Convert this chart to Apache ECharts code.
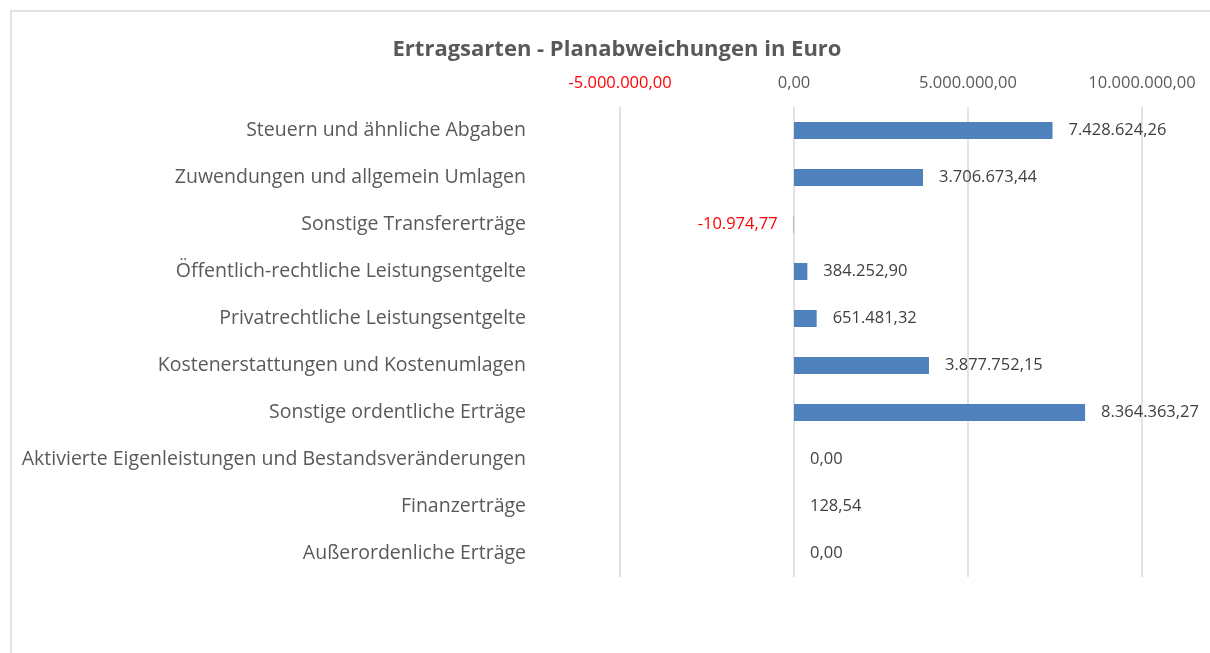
<!DOCTYPE html>
<html><head><meta charset="utf-8">
<script src="https://cdn.jsdelivr.net/npm/echarts@6/dist/echarts.min.js"></script>
<style>html,body{margin:0;padding:0;background:#fff}#c{width:1210px;height:653px}</style>
</head><body><div id="c"></div>
<script>
const categories = [
  'Steuern und ähnliche Abgaben',
  'Zuwendungen und allgemein Umlagen',
  'Sonstige Transfererträge',
  'Öffentlich-rechtliche Leistungsentgelte',
  'Privatrechtliche Leistungsentgelte',
  'Kostenerstattungen und Kostenumlagen',
  'Sonstige ordentliche Erträge',
  'Aktivierte Eigenleistungen und Bestandsveränderungen',
  'Finanzerträge',
  'Außerordenliche Erträge'
];
const values = [7428624.26, 3706673.44, -10974.77, 384252.90, 651481.32, 3877752.15, 8364363.27, 0, 128.54, 0];
const axisMin = -5000000, axisMax = 10000000, axisStep = 5000000;
const titleText = 'Ertragsarten - Planabweichungen in Euro';

function fmt(v) {
  const neg = v < 0;
  const s = Math.abs(v).toFixed(2).split('.');
  const intPart = s[0].replace(/\B(?=(\d{3})+(?!\d))/g, '.');
  return (neg ? '-' : '') + intPart + ',' + s[1];
}
const FONT = '"Open Sans", "DejaVu Sans", sans-serif';
const chart = echarts.init(document.getElementById('c'), null, {renderer: 'canvas'});
chart.setOption({
  animation: false,
  backgroundColor: '#fff',
  graphic: [{type: 'rect', shape: {x: 11, y: 11, width: 1300, height: 800}, style: {fill: 'none', stroke: '#d9d9d9', lineWidth: 1.5}, z: 0}],
  title: {
    text: titleText, left: 612, top: 34, textAlign: 'center',
    textStyle: {fontFamily: FONT, fontSize: 22, fontWeight: 'bold', color: '#595959'}
  },
  grid: {left: 620, right: 68, top: 107, bottom: 76, containLabel: false},
  xAxis: {
    type: 'value', position: 'top', min: axisMin, max: axisMax, interval: axisStep,
    axisLine: {show: false}, axisTick: {show: false},
    splitLine: {show: true, lineStyle: {color: '#d9d9d9', width: 1.5}},
    axisLabel: {
      margin: 15, fontFamily: FONT, fontSize: 16.5, color: '#595959',
      formatter: v => v < 0 ? '{neg|' + fmt(v) + '}' : fmt(v),
      rich: {neg: {color: '#ff0000', fontFamily: FONT, fontSize: 16.5}}
    }
  },
  yAxis: {
    type: 'category', data: categories, inverse: true,
    axisLine: {show: false, onZero: false}, axisTick: {show: false},
    axisLabel: {margin: 94, fontFamily: FONT, fontSize: 19.5, color: '#595959', padding: [4, 0, 0, 0]}
  },
  series: [{
    type: 'bar', barWidth: 17,
    itemStyle: {color: '#4f81bd'},
    data: values.map(v => ({
      value: v,
      label: {
        show: true, position: v < 0 ? 'left' : 'right', distance: 16,
        formatter: p => fmt(p.value),
        color: v < 0 ? '#ff0000' : '#404040', fontFamily: FONT, fontSize: 16.5
      }
    }))
  }]
});
</script></body></html>
